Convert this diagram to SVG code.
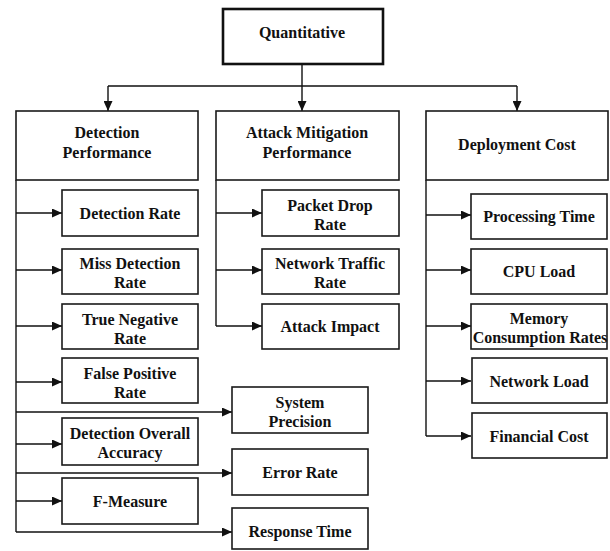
<svg xmlns="http://www.w3.org/2000/svg" width="610" height="551" viewBox="0 0 610 551">
  <style>
    .box { fill: #ffffff; stroke: #1a1a1a; stroke-width: 1.6; }
    .root { fill: #ffffff; stroke: #111111; stroke-width: 2.6; }
    .lbl { font-family: "Liberation Serif", "Times New Roman", serif; font-weight: bold; font-size: 16px; fill: #111111; text-anchor: middle; }
    .wire { fill: none; stroke: #111111; stroke-width: 1.4; }
    .arr { fill: none; stroke: #111111; stroke-width: 1.4; marker-end: url(#head); }
  </style>
  <defs>
    <marker id="head" markerUnits="userSpaceOnUse" markerWidth="10" markerHeight="9" refX="10" refY="4.5" orient="auto">
      <path d="M0,0 L10,4.5 L0,9 Z" fill="#111111"/>
    </marker>
  </defs>

  <!-- connectors -->
  <g id="connectors">
    <!-- root fan-out -->
    <path class="wire" d="M302,64 V86 M108,86 H517"/>
    <path class="arr" d="M108,86 V111"/>
    <path class="arr" d="M302,86 V111"/>
    <path class="arr" d="M517,86 V111"/>

    <!-- detection performance spine -->
    <path class="wire" d="M16,180 V532"/>
    <path class="arr" d="M16,213 H62"/>
    <path class="arr" d="M16,270 H62"/>
    <path class="arr" d="M16,326 H62"/>
    <path class="arr" d="M16,382 H62"/>
    <path class="arr" d="M16,412 H232"/>
    <path class="arr" d="M16,444 H62"/>
    <path class="arr" d="M16,473 H232"/>
    <path class="arr" d="M16,501 H62"/>
    <path class="arr" d="M16,532 H232"/>

    <!-- attack mitigation spine -->
    <path class="wire" d="M216,180 V326"/>
    <path class="arr" d="M216,213 H262"/>
    <path class="arr" d="M216,270 H262"/>
    <path class="arr" d="M216,326 H262"/>

    <!-- deployment cost spine -->
    <path class="wire" d="M426,180 V436"/>
    <path class="arr" d="M426,215 H471"/>
    <path class="arr" d="M426,270 H471"/>
    <path class="arr" d="M426,326 H471"/>
    <path class="arr" d="M426,381 H471"/>
    <path class="arr" d="M426,436 H471"/>
  </g>

  <!-- root -->
  <g id="quantitative">
    <rect class="root" x="223" y="9" width="160" height="55"/>
    <text class="lbl" x="302" y="38">Quantitative</text>
  </g>

  <!-- category headers -->
  <g id="detection-performance">
    <rect class="box" x="16" y="111" width="182" height="69"/>
    <text class="lbl" x="107" y="138">Detection</text>
    <text class="lbl" x="107" y="158">Performance</text>
  </g>
  <g id="attack-mitigation-performance">
    <rect class="box" x="216" y="111" width="183" height="69"/>
    <text class="lbl" x="307" y="138">Attack Mitigation</text>
    <text class="lbl" x="307" y="158">Performance</text>
  </g>
  <g id="deployment-cost">
    <rect class="box" x="426" y="111" width="182" height="69"/>
    <text class="lbl" x="517" y="150">Deployment Cost</text>
  </g>

  <!-- detection performance metrics -->
  <g id="detection-rate">
    <rect class="box" x="62" y="190" width="136" height="46"/>
    <text class="lbl" x="130" y="219">Detection Rate</text>
  </g>
  <g id="miss-detection-rate">
    <rect class="box" x="62" y="249" width="136" height="45"/>
    <text class="lbl" x="130" y="269">Miss Detection</text>
    <text class="lbl" x="130" y="288">Rate</text>
  </g>
  <g id="true-negative-rate">
    <rect class="box" x="62" y="304" width="136" height="45"/>
    <text class="lbl" x="130" y="325">True Negative</text>
    <text class="lbl" x="130" y="344">Rate</text>
  </g>
  <g id="false-positive-rate">
    <rect class="box" x="62" y="358" width="136" height="45"/>
    <text class="lbl" x="130" y="379">False Positive</text>
    <text class="lbl" x="130" y="398">Rate</text>
  </g>
  <g id="detection-overall-accuracy">
    <rect class="box" x="62" y="418" width="136" height="47"/>
    <text class="lbl" x="130" y="439">Detection Overall</text>
    <text class="lbl" x="130" y="458">Accuracy</text>
  </g>
  <g id="f-measure">
    <rect class="box" x="62" y="478" width="136" height="46"/>
    <text class="lbl" x="130" y="507">F-Measure</text>
  </g>
  <g id="system-precision">
    <rect class="box" x="232" y="387" width="136" height="46"/>
    <text class="lbl" x="300" y="408">System</text>
    <text class="lbl" x="300" y="427">Precision</text>
  </g>
  <g id="error-rate">
    <rect class="box" x="232" y="449" width="136" height="46"/>
    <text class="lbl" x="300" y="478">Error  Rate</text>
  </g>
  <g id="response-time">
    <rect class="box" x="232" y="508" width="136" height="41"/>
    <text class="lbl" x="300" y="537">Response Time</text>
  </g>

  <!-- attack mitigation metrics -->
  <g id="packet-drop-rate">
    <rect class="box" x="262" y="190" width="137" height="46"/>
    <text class="lbl" x="330" y="211">Packet Drop</text>
    <text class="lbl" x="330" y="230">Rate</text>
  </g>
  <g id="network-traffic-rate">
    <rect class="box" x="262" y="249" width="137" height="45"/>
    <text class="lbl" x="330" y="269">Network Traffic</text>
    <text class="lbl" x="330" y="288">Rate</text>
  </g>
  <g id="attack-impact">
    <rect class="box" x="262" y="304" width="137" height="45"/>
    <text class="lbl" x="330" y="332">Attack Impact</text>
  </g>

  <!-- deployment cost metrics -->
  <g id="processing-time">
    <rect class="box" x="471" y="194" width="136" height="45"/>
    <text class="lbl" x="539" y="222">Processing Time</text>
  </g>
  <g id="cpu-load">
    <rect class="box" x="471" y="249" width="136" height="45"/>
    <text class="lbl" x="539" y="277">CPU Load</text>
  </g>
  <g id="memory-consumption-rates">
    <rect class="box" x="471" y="304" width="136" height="45"/>
    <text class="lbl" x="539" y="324">Memory</text>
    <text class="lbl" x="540" y="343">Consumption Rates</text>
  </g>
  <g id="network-load">
    <rect class="box" x="472" y="358" width="135" height="45"/>
    <text class="lbl" x="539" y="387">Network Load</text>
  </g>
  <g id="financial-cost">
    <rect class="box" x="472" y="413" width="135" height="45"/>
    <text class="lbl" x="539" y="442">Financial Cost</text>
  </g>
</svg>
